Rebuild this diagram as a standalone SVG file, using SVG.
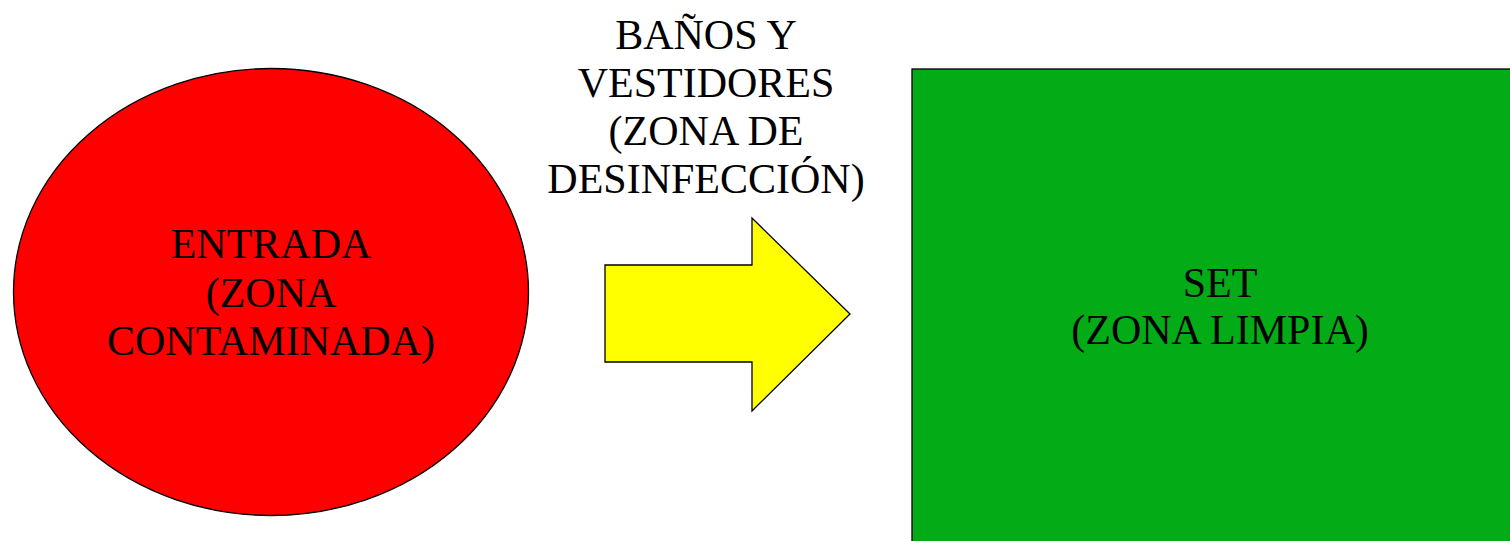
<svg xmlns="http://www.w3.org/2000/svg" width="1510" height="541" viewBox="0 0 1510 541">
<style>
text{font-family:"Liberation Serif","Times New Roman",serif;font-size:42px;fill:#000;text-anchor:middle}
.shape{stroke:#000;stroke-width:1.3}
</style>
<rect width="1510" height="541" fill="#fff"/>
<g id="entrada">
<ellipse class="shape" cx="271" cy="292" rx="257.5" ry="223.5" fill="#ff0000"/>
<text x="271" y="258">ENTRADA</text>
<text x="271" y="307">(ZONA</text>
<text x="271" y="355">CONTAMINADA)</text>
</g>
<g id="set">
<rect class="shape" x="912" y="69" width="610" height="490" fill="#03ac17"/>
<text x="1220" y="297">SET</text>
<text x="1220" y="344">(ZONA LIMPIA)</text>
</g>
<g id="connectors">
<g id="flecha">
<polygon class="shape" points="605,265 752,265 752,218 850,314 752,411 752,362 605,362" fill="#ffff00"/>
<text x="706" y="49">BAÑOS Y</text>
<text x="706" y="97">VESTIDORES</text>
<text x="706" y="145">(ZONA DE</text>
<text x="706" y="193">DESINFECCIÓN)</text>
</g>
</g>
</svg>
